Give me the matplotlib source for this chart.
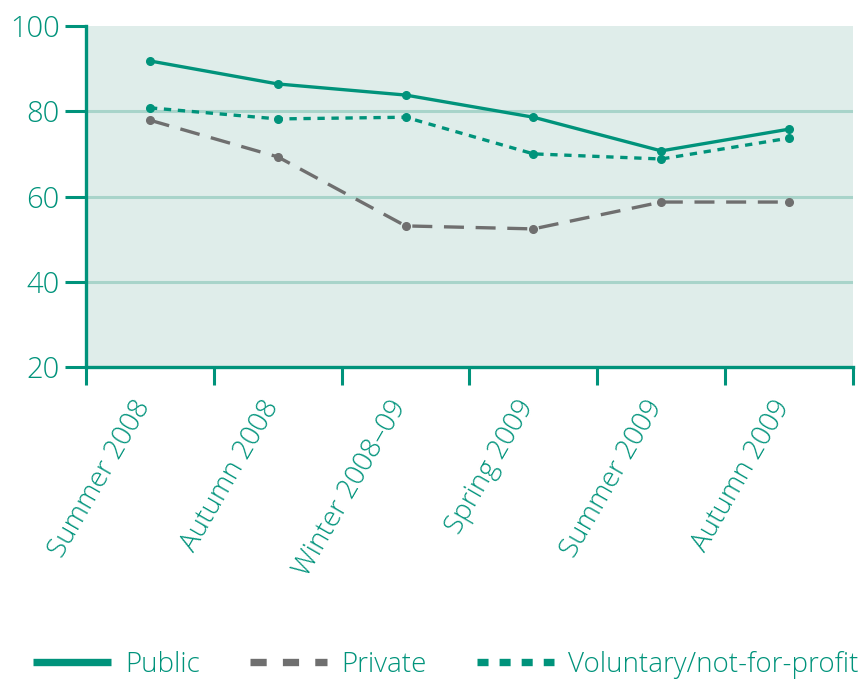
import matplotlib
matplotlib.use("Agg")
import matplotlib.pyplot as plt
import matplotlib.transforms as mtransforms
from matplotlib.lines import Line2D

categories = ["Summer 2008", "Autumn 2008", "Winter 2008\u201309", "Spring 2009", "Summer 2009", "Autumn 2009"]
public = [91.8, 86.4, 83.8, 78.6, 70.7, 75.8]
private = [77.9, 69.3, 53.1, 52.4, 58.7, 58.7]
voluntary = [80.8, 78.2, 78.6, 70.0, 68.8, 73.7]
yticks = [20, 40, 60, 80, 100]

TEAL = "#00937b"
GREY = "#6f6f6f"
BG = "#dfedea"
GRID = "#a8d4ca"

plt.rcParams['font.family'] = ['Open Sans', 'DejaVu Sans']
plt.rcParams['font.weight'] = 300

fig = plt.figure(figsize=(8.62, 6.84), dpi=100)
ax = fig.add_axes([86/862, 1-367/684, (853-86)/862, (367-26)/684])
ax.set_facecolor(BG)

x = list(range(len(categories)))
ax.plot(x, public, color=TEAL, lw=2.4, marker='o', ms=5.5, zorder=4)
ax.plot(x, private, color=GREY, lw=2.4, marker='o', ms=5.5, dashes=(6, 3.5), zorder=3)
ax.plot(x, voluntary, color=TEAL, lw=2.4, marker='o', ms=5.5, dashes=(2.2, 2.0), zorder=3)

ax.set_xlim(-0.5, len(categories) - 0.5)
ax.set_ylim(20, 100)
ax.set_yticks(yticks)
ax.set_yticklabels([str(v) for v in yticks], fontsize=21, color=TEAL, fontweight=300)
for v in yticks[1:-1]:
    ax.axhline(v, color=GRID, lw=2.2, zorder=1)

ax.set_xticks([i - 0.5 for i in range(len(categories) + 1)])
ax.set_xticklabels([])
ax.set_xticks(x, minor=True)
ax.set_xticklabels(categories, minor=True, rotation=60, ha='right', va='center_baseline',
                   rotation_mode='anchor', fontsize=20, color=TEAL, fontweight=300)
ax.tick_params(axis='x', which='minor', length=0, pad=24)
ax.tick_params(axis='x', which='major', length=13, width=2.2, color=TEAL)
ax.tick_params(axis='y', length=15, width=2.2, color=TEAL, pad=4)
offset = mtransforms.ScaledTranslation(-6/72, 0, fig.dpi_scale_trans)
for lab in ax.get_xticklabels(minor=True):
    lab.set_transform(lab.get_transform() + offset)

for s in ['top', 'right']:
    ax.spines[s].set_visible(False)
for s in ['left', 'bottom']:
    ax.spines[s].set_color(TEAL)
    ax.spines[s].set_linewidth(2.4)

handles = [
    Line2D([], [], color=TEAL, lw=5.3, solid_capstyle='butt'),
    Line2D([], [], color=GREY, lw=5.3, dashes=(2.2, 2.2), dash_capstyle='butt'),
    Line2D([], [], color=TEAL, lw=5.3, dashes=(1.5, 1.5), dash_capstyle='butt'),
]
leg = fig.legend(handles, ["Public", "Private", "Voluntary/not-for-profit"],
                 loc='center', bbox_to_anchor=(446/862, 1-665/684), ncol=3, frameon=False,
                 prop={'size': 20, 'weight': 300}, handlelength=2.8, columnspacing=1.8,
                 handletextpad=0.5, labelcolor=TEAL)

fig.savefig("out.png", dpi=100)
